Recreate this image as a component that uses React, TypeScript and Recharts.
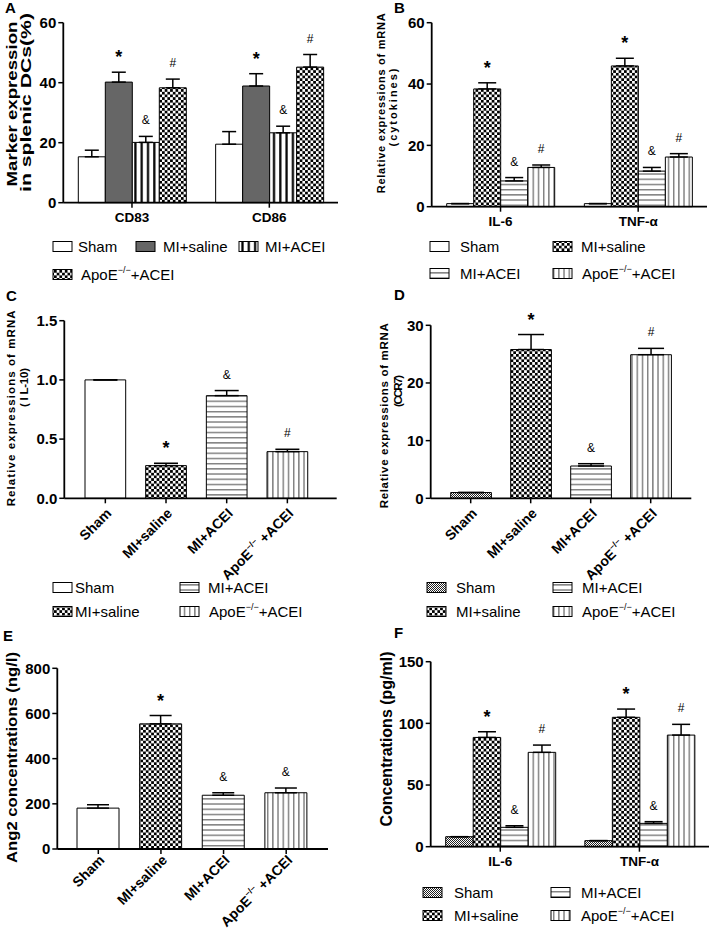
import React from 'react';
import { BarChart, Bar, XAxis, YAxis, ErrorBar, LabelList, Cell } from 'recharts';

const FONT = '"Liberation Sans", Arial, Helvetica, sans-serif';

const groupNames = ['Sham', 'MI+saline', 'MI+ACEI', 'ApoE−/−+ACEI'];
const groupMarks = ['', '*', '&', '#'];

// A: marker expression in splenic DCs (%)
const aCategories = ['CD83', 'CD86'];
const aSham = [15.3, 19.5];
const aShamErr = [2.2, 4.2];
const aSaline = [40.2, 38.9];
const aSalineErr = [3.3, 4.1];
const aAcei = [20.1, 23.3];
const aAceiErr = [2.0, 2.2];
const aApoe = [38.3, 45.2];
const aApoeErr = [2.9, 4.2];
const aTicks = [0, 20, 40, 60];

// B: cytokine mRNA
const bCategories = ['IL-6', 'TNF-α'];
const bSham = [1, 1];
const bShamErr = [0, 0];
const bSaline = [38.4, 45.9];
const bSalineErr = [2.0, 2.5];
const bAcei = [8.4, 11.6];
const bAceiErr = [1.1, 1.2];
const bApoe = [12.8, 16.2];
const bApoeErr = [0.8, 1.1];
const bTicks = [0, 20, 40, 60];

// C: IL-10 mRNA
const cValues = [1.0, 0.276, 0.867, 0.394];
const cErr = [0, 0.02, 0.043, 0.02];
const cTicks = [0, 0.5, 1.0, 1.5];

// D: CCR7 mRNA
const dValues = [1.0, 25.8, 5.6, 24.9];
const dErr = [0, 2.6, 0.4, 1.1];
const dTicks = [0, 10, 20, 30];

// E: Ang2
const eValues = [181, 554, 238, 249];
const eErr = [15, 37, 11, 21];
const eMarks = ['', '*', '&', '&'];
const eTicks = [0, 200, 400, 600, 800];

// F: serum cytokines
const fCategories = ['IL-6', 'TNF-α'];
const fSham = [8.1, 4.9];
const fShamErr = [0, 0];
const fSaline = [88.6, 104.9];
const fSalineErr = [4.6, 6.7];
const fAcei = [15.7, 18.9];
const fAceiErr = [1.3, 1.4];
const fApoe = [76.5, 90.5];
const fApoeErr = [5.9, 8.7];
const fTicks = [0, 50, 100, 150];

const fillsA = ['#fff', '#666', 'url(#pVThick)', 'url(#pChecker)'];
const fillsB = ['#fff', 'url(#pChecker)', 'url(#pHLines)', 'url(#pVLines)'];
const fillsD = ['url(#pFine)', 'url(#pChecker)', 'url(#pHLines)', 'url(#pVLines)'];

const nameParts = (n: string, spaced: boolean, sup: number) => {
  if (!n.startsWith('ApoE')) return n;
  return [
    <tspan key="a">ApoE</tspan>,
    <tspan key="b" dy={-sup * 0.75} fontSize={sup}>−/−</tspan>,
    <tspan key="c" dy={sup * 0.75}>{spaced ? ' +ACEI' : '+ACEI'}</tspan>,
  ];
};

const markLabel = (marks: string[], vals: number[], errs: number[]) => (p: any) => {
  const i = p.index;
  if (i === undefined || !marks[i]) return null;
  const h = Number(p.height);
  const v = vals[i];
  const errPx = v ? (h / v) * errs[i] : 0;
  const cx = Number(p.x) + Number(p.width) / 2;
  const top = Number(p.y) - errPx;
  const star = marks[i] === '*';
  return (
    <text
      x={cx}
      y={top - (star ? 9 : 12)}
      textAnchor="middle"
      fontFamily={FONT}
      fontSize={star ? 18 : 12}
      fontWeight={star ? 'bold' : 'normal'}
      fill="#000"
    >
      {marks[i]}
    </text>
  );
};

const RotTick = (props: any) => {
  const { x, y, payload, lift = 0 } = props;
  const ax = x + 7;
  const ay = y + 9 - lift;
  return (
    <text
      x={ax}
      y={ay}
      transform={`rotate(-45 ${ax} ${ay})`}
      textAnchor="end"
      fontFamily={FONT}
      fontSize={14}
      fontWeight="bold"
      fill="#000"
    >
      {nameParts(payload.value, true, 8.5)}
    </text>
  );
};

type Box = {
  left: number;
  top: number;
  width: number;
  height: number;
  axisX: number;
  plotRight: number;
  yTop: number;
  yZero: number;
};

type Series = { values: number[]; errs: number[]; mark: string; fill: string };

const axisLine = { stroke: '#000', strokeWidth: 1.8 };
const tickLine = { stroke: '#000', strokeWidth: 1.5 };
const yTickStyle = { fontFamily: FONT, fontSize: 15, fontWeight: 'bold', fill: '#000' };

function GroupPanel({ box, categories, series, ticks, barSize, cap }: { box: Box; categories: string[]; series: Series[]; ticks: number[]; barSize: number; cap: number }) {
  const data = categories.map((c, i) => {
    const row: any = { cat: c };
    series.forEach((s, k) => {
      row['v' + k] = s.values[i];
      row['e' + k] = [0, s.errs[i]];
    });
    return row;
  });
  return (
    <div style={{ position: 'absolute', left: box.left, top: box.top }}>
      <BarChart
        width={box.width}
        height={box.height}
        data={data}
        margin={{ top: box.yTop, right: box.width - box.plotRight, left: 0, bottom: 0 }}
        barGap={0}
      >
        <XAxis
          dataKey="cat"
          height={box.height - box.yZero}
          axisLine={axisLine}
          tickLine={tickLine}
          tickSize={5}
          tickMargin={5}
          interval={0}
          tick={{ fontFamily: FONT, fontSize: 13.5, fontWeight: 'bold', fill: '#000' }}
        />
        <YAxis
          width={box.axisX}
          domain={[ticks[0], ticks[ticks.length - 1]]}
          ticks={ticks}
          interval={0}
          axisLine={axisLine}
          tickLine={tickLine}
          tickSize={5}
          tickMargin={2}
          tick={yTickStyle}
        />
        {series.map((s, k) => (
          <Bar key={k} dataKey={'v' + k} fill={s.fill} stroke="#000" strokeWidth={1} barSize={barSize} isAnimationActive={false}>
            <ErrorBar dataKey={'e' + k} width={cap} stroke="#000" strokeWidth={1.5} direction="y" />
            <LabelList dataKey={'v' + k} content={markLabel(s.values.map(() => s.mark), s.values, s.errs)} />
          </Bar>
        ))}
      </BarChart>
    </div>
  );
}

function SinglePanel({ box, values, errs, marks, fills, ticks, barSize, padL, padR, cap, lift, fmt }: { box: Box; values: number[]; errs: number[]; marks: string[]; fills: string[]; ticks: number[]; barSize: number; padL: number; padR: number; cap: number; lift?: number; fmt?: (v: number) => string }) {
  const data = groupNames.map((n, i) => ({ name: n, v: values[i], e: [0, errs[i]] }));
  return (
    <div style={{ position: 'absolute', left: box.left, top: box.top }}>
      <BarChart
        width={box.width}
        height={box.height}
        data={data}
        margin={{ top: box.yTop, right: box.width - box.plotRight, left: 0, bottom: 0 }}
      >
        <XAxis
          dataKey="name"
          height={box.height - box.yZero}
          padding={{ left: padL, right: padR }}
          axisLine={axisLine}
          tickLine={tickLine}
          tickSize={5}
          tickMargin={2}
          interval={0}
          tick={<RotTick lift={lift || 0} />}
        />
        <YAxis
          width={box.axisX}
          domain={[ticks[0], ticks[ticks.length - 1]]}
          ticks={ticks}
          interval={0}
          axisLine={axisLine}
          tickLine={tickLine}
          tickSize={5}
          tickMargin={2}
          tick={yTickStyle}
          tickFormatter={fmt}
        />
        <Bar dataKey="v" stroke="#000" strokeWidth={1} barSize={barSize} isAnimationActive={false}>
          {data.map((d, i) => (
            <Cell key={d.name} fill={fills[i]} />
          ))}
          <ErrorBar dataKey="e" width={cap} stroke="#000" strokeWidth={1.5} direction="y" />
          <LabelList dataKey="v" content={markLabel(marks, values, errs)} />
        </Bar>
      </BarChart>
    </div>
  );
}

type LegendItem = { i: number; sx: number; tx: number; by: number };

function LegendBlock({ items, fills }: { items: LegendItem[]; fills: string[] }) {
  return (
    <g>
      {items.map((it) => (
        <g key={it.i}>
          <rect x={it.sx} y={it.by - 10.5} width={19} height={10} fill={fills[it.i]} stroke="#000" strokeWidth={1} />
          <text x={it.tx} y={it.by} fontFamily={FONT} fontSize={15} fill="#000">
            {nameParts(groupNames[it.i], false, 9)}
          </text>
        </g>
      ))}
    </g>
  );
}

function VLabel({ x, cy, len, size, text, adjust }: { x: number; cy: number; len: number; size: number; text: string; adjust?: string }) {
  return (
    <text
      transform={`translate(${x},${cy}) rotate(-90)`}
      textAnchor="middle"
      fontFamily={FONT}
      fontSize={size}
      fontWeight="bold"
      fill="#000"
      textLength={len}
      lengthAdjust={adjust || 'spacingAndGlyphs'}
    >
      {text}
    </text>
  );
}

const letterStyle = { fontFamily: FONT, fontSize: 15, fontWeight: 'bold' as const, fill: '#000' };

export default function App() {
  const seriesA: Series[] = [
    { values: aSham, errs: aShamErr, mark: groupMarks[0], fill: fillsA[0] },
    { values: aSaline, errs: aSalineErr, mark: groupMarks[1], fill: fillsA[1] },
    { values: aAcei, errs: aAceiErr, mark: groupMarks[2], fill: fillsA[2] },
    { values: aApoe, errs: aApoeErr, mark: groupMarks[3], fill: fillsA[3] },
  ];
  const seriesB: Series[] = [
    { values: bSham, errs: bShamErr, mark: groupMarks[0], fill: fillsB[0] },
    { values: bSaline, errs: bSalineErr, mark: groupMarks[1], fill: fillsB[1] },
    { values: bAcei, errs: bAceiErr, mark: groupMarks[2], fill: fillsB[2] },
    { values: bApoe, errs: bApoeErr, mark: groupMarks[3], fill: fillsB[3] },
  ];
  const seriesF: Series[] = [
    { values: fSham, errs: fShamErr, mark: groupMarks[0], fill: fillsD[0] },
    { values: fSaline, errs: fSalineErr, mark: groupMarks[1], fill: fillsD[1] },
    { values: fAcei, errs: fAceiErr, mark: groupMarks[2], fill: fillsD[2] },
    { values: fApoe, errs: fApoeErr, mark: groupMarks[3], fill: fillsD[3] },
  ];

  return (
    <div style={{ position: 'absolute', left: 0, top: 0, width: 709, height: 930, background: '#fff', overflow: 'hidden' }}>
      <GroupPanel
        box={{ left: 0, top: 0, width: 354, height: 235, axisX: 63.3, plotRight: 338, yTop: 22.7, yZero: 202.7 }}
        categories={aCategories}
        series={seriesA}
        ticks={aTicks}
        barSize={27}
        cap={7}
      />
      <GroupPanel
        box={{ left: 354, top: 0, width: 355, height: 235, axisX: 77.7, plotRight: 353, yTop: 22.7, yZero: 206.7 }}
        categories={bCategories}
        series={seriesB}
        ticks={bTicks}
        barSize={27}
        cap={9}
      />
      <SinglePanel
        box={{ left: 0, top: 300, width: 354, height: 290, axisX: 64.3, plotRight: 336.7, yTop: 20.7, yZero: 198.3 }}
        values={cValues}
        errs={cErr}
        marks={groupMarks}
        fills={fillsB}
        ticks={cTicks}
        barSize={40.7}
        padL={10.7}
        padR={19}
        cap={12}
        fmt={(v) => v.toFixed(1)}
      />
      <SinglePanel
        box={{ left: 354, top: 300, width: 355, height: 290, axisX: 76.7, plotRight: 337.3, yTop: 25.3, yZero: 198.3 }}
        values={dValues}
        errs={dErr}
        marks={groupMarks}
        fills={fillsD}
        ticks={dTicks}
        barSize={40.7}
        padL={10}
        padR={10.6}
        cap={13}
      />
      <SinglePanel
        box={{ left: 0, top: 630, width: 354, height: 300, axisX: 57.3, plotRight: 328, yTop: 38.3, yZero: 219 }}
        values={eValues}
        errs={eErr}
        marks={eMarks}
        fills={fillsB}
        ticks={eTicks}
        barSize={42}
        padL={9.7}
        padR={10.5}
        cap={11}
        lift={4}
      />
      <GroupPanel
        box={{ left: 354, top: 630, width: 355, height: 250, axisX: 76.7, plotRight: 355, yTop: 31.7, yZero: 216.7 }}
        categories={fCategories}
        series={seriesF}
        ticks={fTicks}
        barSize={27.5}
        cap={9}
      />

      <svg width={709} height={930} style={{ position: 'absolute', left: 0, top: 0, pointerEvents: 'none' }}>
        <defs>
          <pattern id="pChecker" width={5.4} height={5.4} patternUnits="userSpaceOnUse">
            <rect width={5.4} height={5.4} fill="#fff" />
            <rect width={2.7} height={2.7} fill="#000" />
            <rect x={2.7} y={2.7} width={2.7} height={2.7} fill="#000" />
          </pattern>
          <pattern id="pVThick" width={6.3} height={10} patternUnits="userSpaceOnUse">
            <rect width={6.3} height={10} fill="#fff" />
            <rect x={2} width={2.2} height={10} fill="#000" />
          </pattern>
          <pattern id="pHLines" width={10} height={5.2} patternUnits="userSpaceOnUse">
            <rect width={10} height={5.2} fill="#fff" />
            <rect y={2} width={10} height={1} fill="#444" />
          </pattern>
          <pattern id="pVLines" width={5.2} height={10} patternUnits="userSpaceOnUse">
            <rect width={5.2} height={10} fill="#fff" />
            <rect x={2} width={1} height={10} fill="#444" />
          </pattern>
          <pattern id="pFine" width={2} height={2} patternUnits="userSpaceOnUse">
            <rect width={2} height={2} fill="#fff" />
            <rect width={1} height={1} fill="#222" />
            <rect x={1} y={1} width={1} height={1} fill="#222" />
          </pattern>
        </defs>

        <text x={5} y={13} {...letterStyle}>A</text>
        <text x={394} y={13} {...letterStyle}>B</text>
        <text x={6} y={301} {...letterStyle}>C</text>
        <text x={394} y={300} {...letterStyle}>D</text>
        <text x={3} y={641} {...letterStyle}>E</text>
        <text x={394} y={638} {...letterStyle}>F</text>

        <VLabel x={17} cy={104} len={165} size={15} text="Marker expression" />
        <VLabel x={31} cy={102.5} len={179} size={15} text="in splenic DCs(%)" />

        <VLabel x={384.5} cy={103.3} len={180} size={11} text="Relative expressions of mRNA" adjust="spacing" />
        <VLabel x={396.5} cy={107.5} len={78} size={11} text="(cytokines)" adjust="spacing" />

        <VLabel x={14.5} cy={408.3} len={196} size={11.5} text="Relative expressions of mRNA" adjust="spacing" />
        <VLabel x={28} cy={387.5} len={39} size={11.5} text="( I L-10)" adjust="spacing" />

        <VLabel x={388} cy={415.8} len={185} size={11.5} text="Relative expressions of mRNA" adjust="spacing" />
        <VLabel x={401.5} cy={391} len={32} size={11.5} text="(CCR7)" adjust="spacing" />

        <VLabel x={16.5} cy={757.5} len={211} size={15.5} text="Ang2 concentrations (ng/l)" />
        <VLabel x={392} cy={739} len={175} size={16} text="Concentrations (pg/ml)" />

        <LegendBlock
          fills={fillsA}
          items={[
            { i: 0, sx: 53, tx: 78, by: 252 },
            { i: 1, sx: 136, tx: 163, by: 252 },
            { i: 2, sx: 239, tx: 265, by: 252 },
            { i: 3, sx: 53, tx: 81, by: 280 },
          ]}
        />
        <LegendBlock
          fills={fillsB}
          items={[
            { i: 0, sx: 430, tx: 460, by: 252 },
            { i: 1, sx: 553, tx: 581, by: 252 },
            { i: 2, sx: 430, tx: 460, by: 279 },
            { i: 3, sx: 553, tx: 582, by: 279 },
          ]}
        />
        <LegendBlock
          fills={fillsB}
          items={[
            { i: 0, sx: 53, tx: 75, by: 593 },
            { i: 2, sx: 180, tx: 208, by: 593 },
            { i: 1, sx: 53, tx: 75, by: 617 },
            { i: 3, sx: 180, tx: 209, by: 617 },
          ]}
        />
        <LegendBlock
          fills={fillsD}
          items={[
            { i: 0, sx: 427, tx: 456, by: 593 },
            { i: 2, sx: 553, tx: 582, by: 593 },
            { i: 1, sx: 427, tx: 456, by: 617 },
            { i: 3, sx: 553, tx: 582, by: 617 },
          ]}
        />
        <LegendBlock
          fills={fillsD}
          items={[
            { i: 0, sx: 423, tx: 454, by: 898 },
            { i: 2, sx: 551, tx: 581, by: 898 },
            { i: 1, sx: 423, tx: 454, by: 921 },
            { i: 3, sx: 551, tx: 581, by: 921 },
          ]}
        />
      </svg>
    </div>
  );
}
